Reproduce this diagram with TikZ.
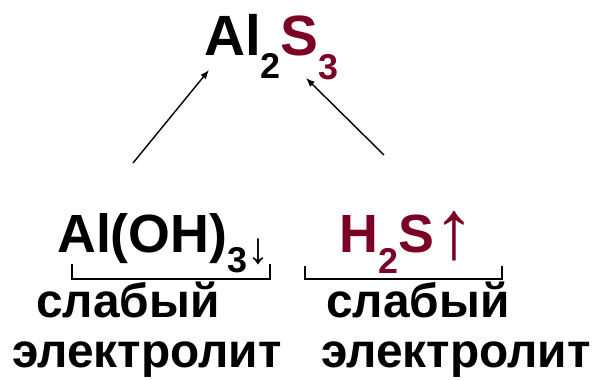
\documentclass[tikz,border=0pt]{standalone}
\usepackage{fontspec}
\setmainfont{Liberation Sans}
\definecolor{wine}{RGB}{122,0,38}
\newcommand\chsub[2][20bp]{\raisebox{-#1}{\fontsize{36}{36}\selectfont #2}}
\tikzset{
  formula/.style={inner sep=0pt, anchor=base west, font=\fontsize{57}{60}\selectfont\bfseries},
  lowformula/.style={formula, font=\fontsize{54}{60}\selectfont\bfseries},
  wordtext/.style={inner sep=0pt, anchor=base, font=\fontsize{48}{50}\selectfont\bfseries},
  bracketline/.style={line width=2.6bp},
  linkarrow/.style={line width=1.4bp, -{Latex[length=9bp,width=7bp]}}
}
\usetikzlibrary{arrows.meta}
\begin{document}
\begin{tikzpicture}[x=1bp,y=-1bp]
\path[use as bounding box] (0,0) rectangle (595,379);
\node[formula] (top) at (204,55) {Al\chsub[23bp]{2}\textcolor{wine}{S\chsub[24bp]{3}}};
\node[lowformula] (aloh) at (57,252) {Al(OH)\chsub[20bp]{3}\raisebox{-11bp}{\fontsize{44}{44}\selectfont\mdseries ↓}};
\node[lowformula] (hs) at (339,252) {\textcolor{wine}{H\chsub[21bp]{2}S\raisebox{-6bp}{\fontsize{84}{84}\selectfont\mdseries ↑}}};
\coordinate (la) at (133,163);
\coordinate (lt) at (209,70);
\coordinate (ra) at (384,155);
\coordinate (rt) at (306,78);
\draw[linkarrow] (la) -- (lt);
\draw[linkarrow] (ra) -- (rt);
\draw[bracketline] (72,264) -- (72,279) -- (270,279) -- (270,264);
\draw[bracketline] (305,266) -- (305,279) -- (502,279) -- (502,266);
\node[wordtext] (w1) at (128,317) {слабый};
\node[wordtext] (w2) at (147,367) {электролит};
\node[wordtext] (w3) at (418,317) {слабый};
\node[wordtext] (w4) at (456,367) {электролит};
\end{tikzpicture}
\end{document}
